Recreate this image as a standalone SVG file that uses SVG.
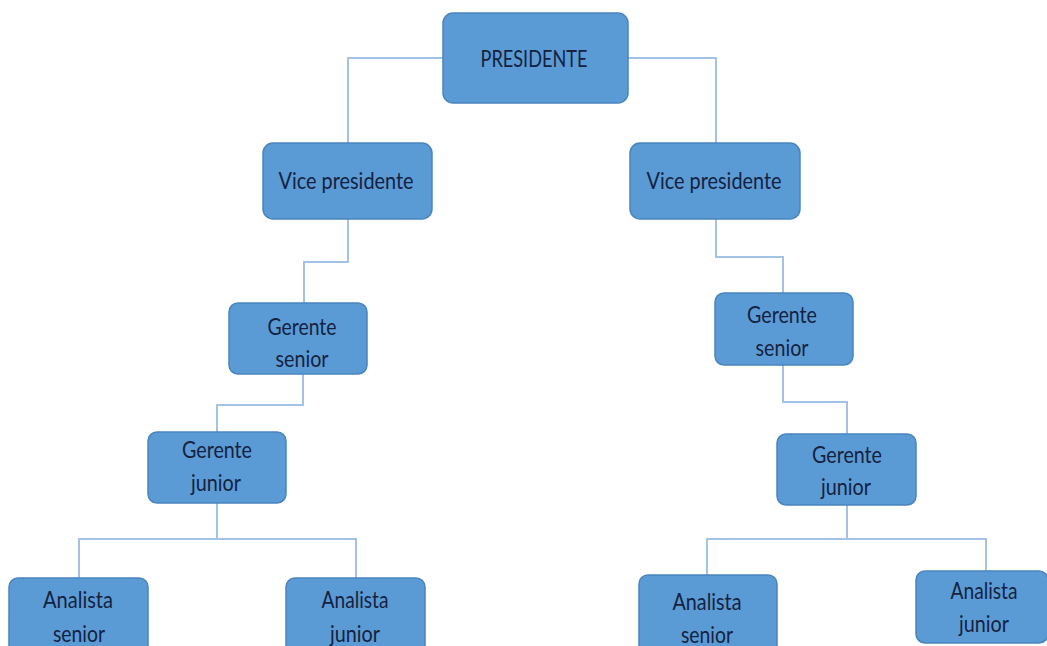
<svg xmlns="http://www.w3.org/2000/svg" width="1047" height="646" viewBox="0 0 1047 646">
  <style>
    .box { fill: #5b9bd5; stroke: #4a84bd; stroke-width: 1.5; }
    .lbl { font-family: Lato, "Liberation Sans", sans-serif; font-size: 23px; fill: #15223f; text-anchor: middle; }
    .link { fill: none; stroke: #a3c3e6; stroke-width: 2; }
  </style>
  <rect width="1047" height="646" fill="#ffffff"/>

  <!-- connectors -->
  <g id="connectors">
    <path class="link" d="M444 58 H348 V143"/>
    <path class="link" d="M628 58 H716 V143"/>
    <path class="link" d="M348 219 V262 H304 V303"/>
    <path class="link" d="M716 219 V257 H783 V293"/>
    <path class="link" d="M303 374 V405 H217 V432"/>
    <path class="link" d="M783 365 V402 H847 V434"/>
    <path class="link" d="M217 503 V539"/>
    <path class="link" d="M79 578 V539 H356 V578"/>
    <path class="link" d="M847 505 V539"/>
    <path class="link" d="M707 575 V539 H986 V571"/>
  </g>

  <!-- top level -->
  <g id="presidente">
    <rect class="box" x="443" y="13" width="185" height="90" rx="10"/>
    <text class="lbl" x="534" y="67" textLength="107" lengthAdjust="spacingAndGlyphs">PRESIDENTE</text>
  </g>

  <!-- vice presidents -->
  <g id="vp-left">
    <rect class="box" x="263" y="143" width="169" height="76" rx="10"/>
    <text class="lbl" x="346" y="189" textLength="135" lengthAdjust="spacingAndGlyphs">Vice presidente</text>
  </g>
  <g id="vp-right">
    <rect class="box" x="630" y="143" width="170" height="76" rx="10"/>
    <text class="lbl" x="714" y="189" textLength="135" lengthAdjust="spacingAndGlyphs">Vice presidente</text>
  </g>

  <!-- senior managers -->
  <g id="gs-left">
    <rect class="box" x="229" y="303" width="138" height="71" rx="9"/>
    <text class="lbl" x="302" y="335" textLength="69" lengthAdjust="spacingAndGlyphs">Gerente</text>
    <text class="lbl" x="302" y="367" textLength="53" lengthAdjust="spacingAndGlyphs">senior</text>
  </g>
  <g id="gs-right">
    <rect class="box" x="715" y="293" width="138" height="72" rx="9"/>
    <text class="lbl" x="782" y="323" textLength="70" lengthAdjust="spacingAndGlyphs">Gerente</text>
    <text class="lbl" x="782" y="356" textLength="53" lengthAdjust="spacingAndGlyphs">senior</text>
  </g>

  <!-- junior managers -->
  <g id="gj-left">
    <rect class="box" x="148" y="432" width="138" height="71" rx="9"/>
    <text class="lbl" x="217" y="458" textLength="70" lengthAdjust="spacingAndGlyphs">Gerente</text>
    <text class="lbl" x="216" y="491" textLength="50" lengthAdjust="spacingAndGlyphs">junior</text>
  </g>
  <g id="gj-right">
    <rect class="box" x="777" y="434" width="139" height="71" rx="9"/>
    <text class="lbl" x="847" y="463" textLength="70" lengthAdjust="spacingAndGlyphs">Gerente</text>
    <text class="lbl" x="846" y="495" textLength="50" lengthAdjust="spacingAndGlyphs">junior</text>
  </g>

  <!-- analysts -->
  <g id="as-left">
    <rect class="box" x="9" y="578" width="139" height="80" rx="9"/>
    <text class="lbl" x="78" y="608" textLength="70" lengthAdjust="spacingAndGlyphs">Analista</text>
    <text class="lbl" x="79" y="642" textLength="52" lengthAdjust="spacingAndGlyphs">senior</text>
  </g>
  <g id="aj-left">
    <rect class="box" x="286" y="578" width="139" height="80" rx="9"/>
    <text class="lbl" x="355" y="608" textLength="67" lengthAdjust="spacingAndGlyphs">Analista</text>
    <text class="lbl" x="355" y="642" textLength="50" lengthAdjust="spacingAndGlyphs">junior</text>
  </g>
  <g id="as-right">
    <rect class="box" x="639" y="575" width="138" height="83" rx="9"/>
    <text class="lbl" x="707" y="610" textLength="69" lengthAdjust="spacingAndGlyphs">Analista</text>
    <text class="lbl" x="707" y="643" textLength="52" lengthAdjust="spacingAndGlyphs">senior</text>
  </g>
  <g id="aj-right">
    <rect class="box" x="916" y="571" width="132" height="72" rx="9"/>
    <text class="lbl" x="984" y="599" textLength="67" lengthAdjust="spacingAndGlyphs">Analista</text>
    <text class="lbl" x="984" y="632" textLength="50" lengthAdjust="spacingAndGlyphs">junior</text>
  </g>
</svg>
